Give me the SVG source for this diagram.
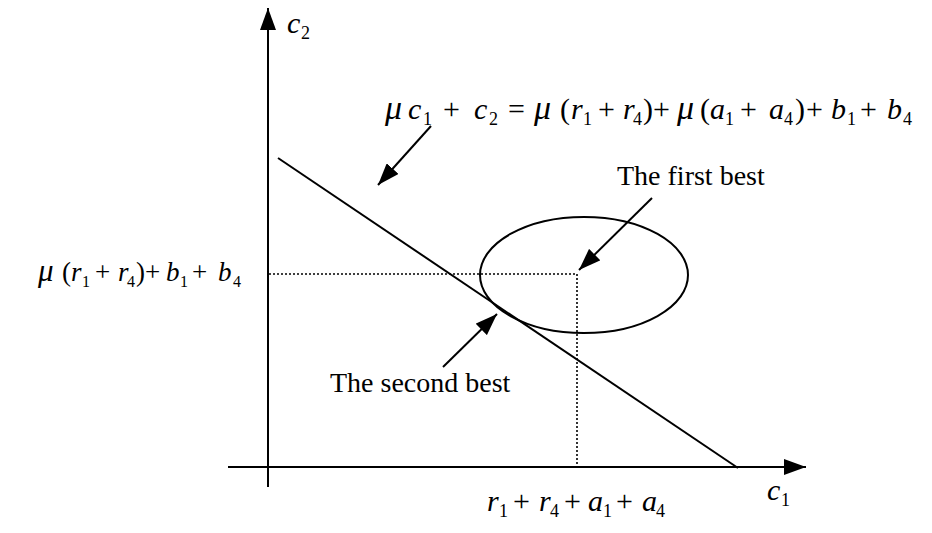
<svg xmlns="http://www.w3.org/2000/svg" width="932" height="533" viewBox="0 0 932 533">
<style>
.ln{stroke:#000;stroke-width:2;fill:none}
.dot{stroke:#000;stroke-width:1.6;fill:none;stroke-dasharray:2 2}
.t{font-family:"Liberation Serif","Times New Roman",serif;fill:#000}
.m{font-family:"Liberation Serif","Times New Roman",serif;fill:#000;font-size:30px}
.i{font-style:italic}
.mu{font-style:italic;font-size:34px}
.s{font-size:18px}
</style>
<defs>
<marker id="ah" viewBox="0 0 22 16" refX="22" refY="8" markerWidth="22" markerHeight="16" orient="auto" markerUnits="userSpaceOnUse"><path d="M0,0 L22,8 L0,16 z" fill="#000"/></marker>
</defs>
<rect width="932" height="533" fill="#fff"/>
<g id="axes">
<line class="ln" x1="268" y1="487" x2="268" y2="8" marker-end="url(#ah)"/>
<line class="ln" x1="228" y1="467" x2="806" y2="467" marker-end="url(#ah)"/>
</g>
<g id="budget-line"><line class="ln" x1="278" y1="158" x2="738" y2="468"/></g>
<g id="guides">
<polyline class="dot" points="269,274 577,274 577,466"/>
</g>
<g id="ellipse"><ellipse class="ln" cx="584" cy="275" rx="104" ry="58"/></g>
<g id="connectors">
<line class="ln" x1="431" y1="126" x2="378" y2="185" marker-end="url(#ah)"/>
<line class="ln" x1="652" y1="198" x2="579" y2="270" marker-end="url(#ah)"/>
<line class="ln" x1="443" y1="367" x2="497" y2="314" marker-end="url(#ah)"/>
</g>
<g id="label-c2"><text class="m"><tspan class="i" x="287" y="33">c</tspan><tspan class="s" x="301" y="39">2</tspan></text></g>
<g id="label-c1"><text class="m"><tspan class="i" x="767" y="500">c</tspan><tspan class="s" x="781" y="506">1</tspan></text></g>
<g id="equation"><text class="m">
<tspan class="mu" x="385" y="119">μ</tspan><tspan class="i" x="408" y="119">c</tspan><tspan class="s" x="423" y="125">1</tspan>
<tspan x="443" y="119">+</tspan><tspan class="i" x="474" y="119">c</tspan><tspan class="s" x="489" y="125">2</tspan>
<tspan x="508" y="119">=</tspan><tspan class="mu" x="534" y="119">μ</tspan><tspan x="560" y="119">(</tspan><tspan class="i" x="571" y="119">r</tspan><tspan class="s" x="583" y="125">1</tspan>
<tspan x="598" y="119">+</tspan><tspan class="i" x="623" y="119">r</tspan><tspan class="s" x="633" y="125">4</tspan><tspan x="643" y="119">)</tspan>
<tspan x="653" y="119">+</tspan><tspan class="mu" x="677" y="119">μ</tspan><tspan x="700" y="119">(</tspan><tspan class="i" x="710" y="119">a</tspan><tspan class="s" x="725" y="125">1</tspan>
<tspan x="740" y="119">+</tspan><tspan class="i" x="769" y="119">a</tspan><tspan class="s" x="784" y="125">4</tspan><tspan x="795" y="119">)</tspan>
<tspan x="806" y="119">+</tspan><tspan class="i" x="831" y="119">b</tspan><tspan class="s" x="847" y="125">1</tspan>
<tspan x="860" y="119">+</tspan><tspan class="i" x="887" y="119">b</tspan><tspan class="s" x="903" y="125">4</tspan>
</text></g>
<g id="label-intercept"><text class="m" style="font-size:27px">
<tspan class="mu" style="font-size:31px" x="38" y="281">μ</tspan><tspan x="62" y="281">(</tspan><tspan class="i" x="71" y="281">r</tspan><tspan class="s" style="font-size:16px" x="82" y="287">1</tspan>
<tspan x="95" y="281">+</tspan><tspan class="i" x="118" y="281">r</tspan><tspan class="s" style="font-size:16px" x="127" y="287">4</tspan><tspan x="136" y="281">)</tspan>
<tspan x="145" y="281">+</tspan><tspan class="i" x="166" y="281">b</tspan><tspan class="s" style="font-size:16px" x="180" y="287">1</tspan>
<tspan x="192" y="281">+</tspan><tspan class="i" x="218" y="281">b</tspan><tspan class="s" style="font-size:16px" x="233" y="287">4</tspan>
</text></g>
<g id="label-sum"><text class="m">
<tspan class="i" x="487" y="511">r</tspan><tspan class="s" x="499" y="517">1</tspan>
<tspan x="513" y="511">+</tspan><tspan class="i" x="539" y="511">r</tspan><tspan class="s" x="550" y="517">4</tspan>
<tspan x="564" y="511">+</tspan><tspan class="i" x="588" y="511">a</tspan><tspan class="s" x="603" y="517">1</tspan>
<tspan x="616" y="511">+</tspan><tspan class="i" x="642" y="511">a</tspan><tspan class="s" x="656" y="517">4</tspan>
</text></g>
<g id="first-best"><text class="t" x="617" y="185" font-size="28">The first best</text></g>
<g id="second-best"><text class="t" x="330" y="392" font-size="28">The second best</text></g>
</svg>
